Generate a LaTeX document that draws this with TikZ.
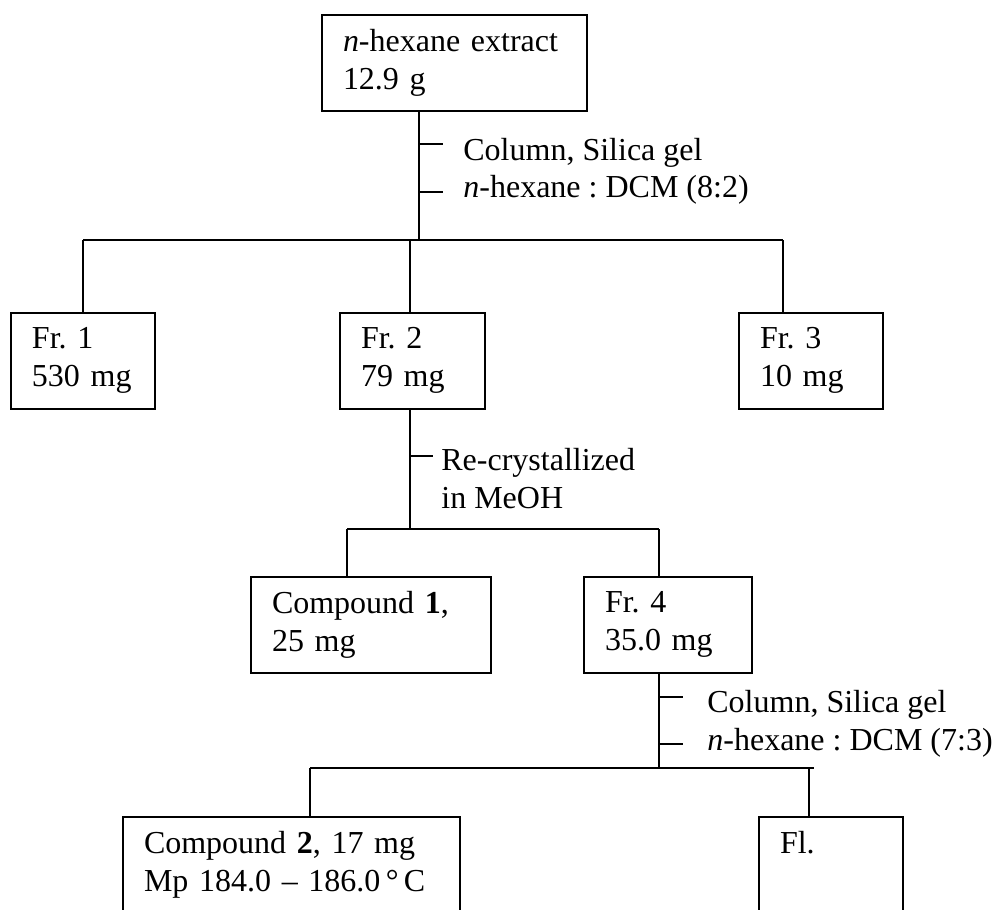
\documentclass[tikz,border=0pt]{standalone}
\usepackage{fontspec}
\setmainfont{Liberation Serif}
\frenchspacing
\tikzstyle{box}=[rectangle,draw=black,line width=1pt,align=left,inner xsep=10.5pt,minimum height=48pt,font=\fontsize{16}{19}\selectfont\frenchspacing]
\tikzstyle{lab}=[anchor=base west,inner sep=0pt,font=\fontsize{16}{19}\selectfont\frenchspacing]
\tikzstyle{link}=[line width=1pt]
\begin{document}
\begin{tikzpicture}[x=0.5pt,y=-0.5pt]
			\useasboundingbox (0,0) rectangle (993,910);
			\clip (0,0) rectangle (993,910);

			\node (ext) at (454.5,63) [box,text width=111.5pt] {\textit{n}-hexane extract\\12.9 g};
			\node (fr1) at (83,360.5) [box,text width=51pt] {Fr. 1\\530 mg};
			\node (fr2) at (412.5,360.5) [box,text width=51.5pt] {Fr. 2\\79 mg};
			\node (fr3) at (811,360.5) [box,text width=51pt] {Fr. 3\\10 mg};
			\node (cpd1) at (371,625) [box,text width=99pt] {Compound \textbf{1},\\25 mg};
			\node (fr4) at (668,624.5) [box,text width=63pt] {Fr. 4\\35.0 mg};
			\node (cpd2) at (291.5,865) [box,text width=147.5pt] {Compound \textbf{2}, 17 mg\\Mp 184.0 – 186.0\,°\,C};
			\node (fl) at (831,865) [box,text width=51pt] {Fl.\\\phantom{Mp}};

			\node (lab1a) at (463,160) [lab] {Column, Silica gel};
			\node (lab1b) at (463,197) [lab] {\textit{n}-hexane : DCM (8:2)};
			\node (lab2a) at (441,470) [lab] {Re-crystallized};
			\node (lab2b) at (441,508) [lab] {in MeOH};
			\node (lab3a) at (707,712) [lab] {Column, Silica gel};
			\node (lab3b) at (707,750) [lab] {\textit{n}-hexane : DCM (7:3)};

			% first split
			\coordinate (b1) at (419,240);
			\coordinate (b1l) at (83,240);
			\coordinate (b1m) at (410,240);
			\coordinate (b1r) at (783,240);
			\draw [link] (ext.south -| b1) -- (b1);
			\draw [link] (b1l) -- (b1r);
			\draw [link] (b1l) -- (fr1.north);
			\draw [link] (b1m) -- (b1m |- fr2.north);
			\draw [link] (b1r) -- (b1r |- fr3.north);
			\draw [link] (419,144) -- ++(24,0);
			\draw [link] (419,192) -- ++(24,0);

			% second split
			\coordinate (b2) at (410,529);
			\coordinate (b2l) at (347,529);
			\coordinate (b2r) at (659,529);
			\draw [link] (fr2.south -| b2) -- (b2);
			\draw [link] (b2l) -- (b2r);
			\draw [link] (b2l) -- (b2l |- cpd1.north);
			\draw [link] (b2r) -- (b2r |- fr4.north);
			\draw [link] (410,456) -- ++(23,0);

			% third split
			\coordinate (b3) at (659,768);
			\coordinate (b3l) at (310,768);
			\coordinate (b3f) at (809,768);
			\coordinate (b3r) at (814,768);
			\draw [link] (fr4.south -| b3) -- (b3);
			\draw [link] (b3l) -- (b3r);
			\draw [link] (b3l) -- (b3l |- cpd2.north);
			\draw [link] (b3f) -- (b3f |- fl.north);
			\draw [link] (659,697) -- ++(24,0);
			\draw [link] (659,744) -- ++(24,0);
		\end{tikzpicture}
\end{document}
